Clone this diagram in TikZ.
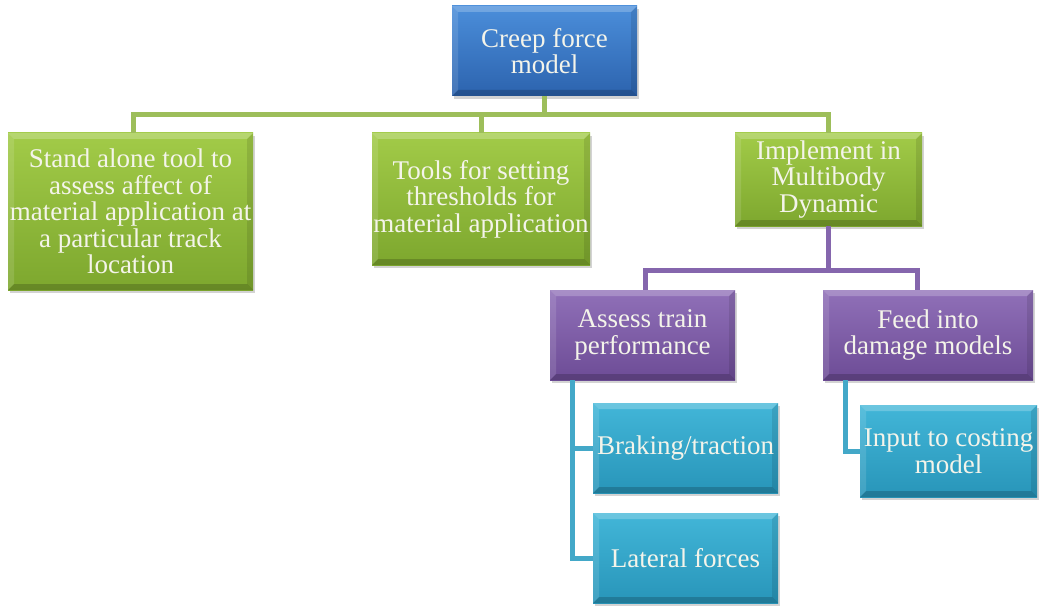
\documentclass[tikz,border=0pt]{standalone}
\usepackage{fontspec}
\setmainfont{Liberation Serif}
\usetikzlibrary{shadows}
\definecolor{bluetop}{HTML}{4B8EDA}
\definecolor{bluebot}{HTML}{2C63AE}
\definecolor{greentop}{HTML}{A2CB48}
\definecolor{greenbot}{HTML}{7DA72E}
\definecolor{purptop}{HTML}{9070B8}
\definecolor{purpbot}{HTML}{6D4C96}
\definecolor{cyantop}{HTML}{42B6D8}
\definecolor{cyanbot}{HTML}{2895B9}
\definecolor{gline}{HTML}{9DBE5A}
\definecolor{pline}{HTML}{8566AD}
\definecolor{cline}{HTML}{43A8C8}
\definecolor{cardtext}{HTML}{F4F4EA}
\tikzset{
  bevel/.style={path picture={
    \fill[white,opacity=0.22] (path picture bounding box.north west) -- (path picture bounding box.north east)
      -- ([xshift=-6pt,yshift=-6pt]path picture bounding box.north east) -- ([xshift=6pt,yshift=-6pt]path picture bounding box.north west) -- cycle;
    \fill[white,opacity=0.12] (path picture bounding box.north west) -- (path picture bounding box.south west)
      -- ([xshift=6pt,yshift=6pt]path picture bounding box.south west) -- ([xshift=6pt,yshift=-6pt]path picture bounding box.north west) -- cycle;
    \fill[black,opacity=0.18] (path picture bounding box.south west) -- (path picture bounding box.south east)
      -- ([xshift=-6pt,yshift=6pt]path picture bounding box.south east) -- ([xshift=6pt,yshift=6pt]path picture bounding box.south west) -- cycle;
    \fill[black,opacity=0.10] (path picture bounding box.north east) -- (path picture bounding box.south east)
      -- ([xshift=-6pt,yshift=6pt]path picture bounding box.south east) -- ([xshift=-6pt,yshift=-6pt]path picture bounding box.north east) -- cycle;
  }},
  card/.style={rectangle, inner sep=0pt, align=center, text=cardtext,
    font=\fontsize{27}{26.5}\selectfont, bevel,
    drop shadow={opacity=0.35, shadow xshift=2pt, shadow yshift=-3pt}},
  bluebox/.style={card, top color=bluetop, bottom color=bluebot},
  greenbox/.style={card, top color=greentop, bottom color=greenbot},
  purpbox/.style={card, top color=purptop, bottom color=purpbot},
  cyanbox/.style={card, top color=cyantop, bottom color=cyanbot},
  conn/.style={line width=5pt, line join=miter},
}
\begin{document}
\begin{tikzpicture}[x=1pt,y=-1pt]
\useasboundingbox (0,0) rectangle (1039,607);
% nodes
\node[bluebox, minimum width=185pt, minimum height=90pt] (top) at (544.5,51) {Creep force\\model};
\node[greenbox, minimum width=245pt, minimum height=157pt] (stand) at (130.5,211.5) {Stand alone tool to\\assess affect of\\material application at\\a particular track\\location};
\node[greenbox, minimum width=218pt, minimum height=132pt] (tools) at (481,199) {Tools for setting\\thresholds for\\material application};
\node[greenbox, minimum width=187pt, minimum height=93pt] (impl) at (828.5,179.5) {Implement in\\Multibody\\Dynamic};
\node[purpbox, minimum width=185pt, minimum height=90pt] (assess) at (642.5,335) {Assess train\\performance};
\node[purpbox, minimum width=210pt, minimum height=90pt] (feed) at (928,335) {Feed into\\damage models};
\node[cyanbox, minimum width=185pt, minimum height=90pt] (brake) at (685.5,448) {Braking/traction};
\node[cyanbox, minimum width=185pt, minimum height=90pt] (lat) at (685.5,558) {Lateral forces};
\node[cyanbox, minimum width=177pt, minimum height=92pt] (input) at (948.5,451) {Input to costing\\model};
% bus coordinates
\coordinate (gbus) at (0,115);
\coordinate (pbus) at (0,270);
\coordinate (cdown) at (572,0);
\coordinate (fdown) at (845,0);
\coordinate (fstub) at (917,0);
\coordinate (astub) at (645,0);
% connectors
\draw[conn, color=gline] (top.south) -- (top.south |- gbus);
\draw[conn, color=gline] ([xshift=2.5pt]stand.north) |- (impl.north |- gbus) -- (impl.north);
\draw[conn, color=gline] (tools.north) -- (tools.north |- gbus);
\draw[conn, color=pline] (impl.south) -- (impl.south |- pbus);
\draw[conn, color=pline] (astub |- assess.north) |- (fstub |- pbus) -- (fstub |- feed.north);
\draw[conn, color=cline] (cdown |- assess.south) |- (lat.west);
\draw[conn, color=cline] (cdown |- brake.west) -- (brake.west);
\draw[conn, color=cline] (fdown |- feed.south) |- (input.west);
\end{tikzpicture}
\end{document}
